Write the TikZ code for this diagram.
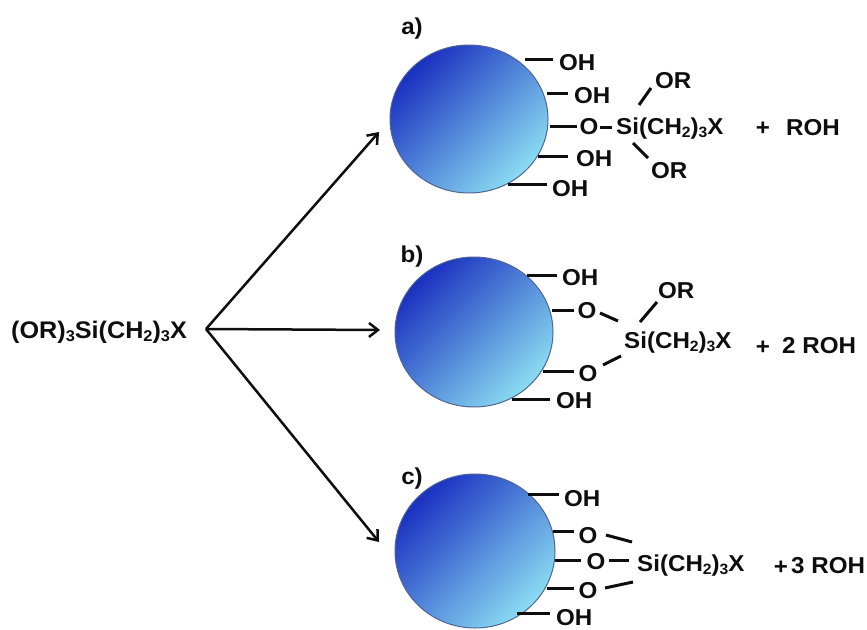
\documentclass[tikz,border=0pt]{standalone}
\usepackage{fontspec}
\usepackage{graphicx}
\setmainfont{Liberation Sans}[FakeStretch=1.05]
\usetikzlibrary{arrows.meta}
\definecolor{ink}{HTML}{0E0E0E}
\definecolor{beaddark}{RGB}{26,48,192}
\definecolor{beadmid}{RGB}{62,122,220}
\definecolor{beadlight}{RGB}{138,220,242}
\definecolor{beadrim}{RGB}{80,100,150}
% lowered, reduced subscript digit
\newcommand\sbs[1]{\raisebox{-0.3ex}{\scalebox{0.65}{#1}}}

\begin{document}
\begin{tikzpicture}[x=1pt,y=-1pt,
  lab/.style={inner sep=0pt, text height=16pt, text depth=0pt,
    font=\fontsize{23}{27}\selectfont\bfseries, text=ink},
  bond/.style={line width=3pt, draw=ink},
  arr/.style={line width=2.5pt, draw=ink,
    -{Straight Barb[length=9pt,width=14pt,line width=2.5pt]}},
  bead/.style={top color=beaddark, middle color=beadmid, bottom color=beadlight,
    shading angle=45, draw=beadrim, line width=1pt}]
\useasboundingbox (0,0) rectangle (867,629);

% silica particles
\shade[bead] (469,119) ellipse [x radius=79pt, y radius=74pt];
\shade[bead] (474,332) ellipse [x radius=79pt, y radius=75pt];
\shade[bead] (475,551) ellipse [x radius=80pt, y radius=77pt];

% starting silane and reaction arrows
\node[lab, font=\fontsize{24}{28}\selectfont\bfseries, anchor=west] (src) at (11,330)
  {(OR)\sbs{3}Si(CH\sbs{2})\sbs{3}X};
\coordinate (fork) at (206,329);
\draw[arr] (fork) -- (379,132);
\draw[arr] (fork) -- (380,330);
\draw[arr] (fork) -- (379,542);

% a) monodentate grafting
\node[lab] (la) at (412,26) {a)};
\node[lab,anchor=west] (a1) at (559,62) {OH};
\draw[bond] (525,59) -- (553,59);
\node[lab,anchor=west] (a2) at (574,95) {OH};
\draw[bond] (547,93) -- (568,93);
\node[lab] (ao) at (589,126) {O};
\draw[bond] (550,126) -- (577,126);
\draw[bond] (600,127) -- (612,127);
\node[lab,anchor=west] (asi) at (616,126) {Si(CH\sbs{2})\sbs{3}X};
\node[lab,anchor=west] (aor1) at (655,80) {OR};
\draw[bond] (639,105) -- (651,88);
\node[lab,anchor=west] (aor2) at (651,170) {OR};
\draw[bond] (633,143) -- (648,158);
\node[lab,anchor=west] (a3) at (576,158) {OH};
\draw[bond] (538,156) -- (568,156);
\node[lab,anchor=west] (a4) at (552,188) {OH};
\draw[bond] (508,184) -- (547,184);
\node[lab] (aplus) at (763,127) {+};
\node[lab,anchor=west] (aroh) at (786,127) {ROH};

% b) bidentate grafting
\node[lab] (lb) at (412,254) {b)};
\node[lab,anchor=west] (b1) at (562,277) {OH};
\draw[bond] (527,275) -- (557,275);
\node[lab] (bo1) at (587,310) {O};
\draw[bond] (552,310) -- (574,310);
\draw[bond] (600,313) -- (618,321);
\node[lab] (bo2) at (588,373) {O};
\draw[bond] (543,371) -- (574,371);
\draw[bond] (603,365) -- (621,356);
\node[lab,anchor=west] (bsi) at (624,340) {Si(CH\sbs{2})\sbs{3}X};
\draw[bond] (640,322) -- (657,302);
\node[lab,anchor=west] (bor) at (658,290) {OR};
\node[lab,anchor=west] (b2) at (556,400) {OH};
\draw[bond] (512,399) -- (550,399);
\node[lab] (bplus) at (763,346) {+};
\node[lab,anchor=west] (broh) at (782,345) {2 ROH};

% c) tridentate grafting
\node[lab] (lc) at (412,476) {c)};
\node[lab,anchor=west] (c1) at (564,498) {OH};
\draw[bond] (528,494) -- (559,494);
\node[lab] (co1) at (588,535) {O};
\draw[bond] (553,531) -- (574,531);
\draw[bond] (606,535) -- (632,542);
\node[lab] (co2) at (596,561) {O};
\draw[bond] (555,560) -- (581,560);
\draw[bond] (609,560) -- (629,560);
\node[lab,anchor=west] (csi) at (637,563) {Si(CH\sbs{2})\sbs{3}X};
\node[lab] (co3) at (588,590) {O};
\draw[bond] (547,588) -- (574,588);
\draw[bond] (605,588) -- (633,582);
\node[lab,anchor=west] (c2) at (556,617) {OH};
\draw[bond] (517,613) -- (550,613);
\node[lab] (cplus) at (781,566) {+};
\node[lab,anchor=west] (croh) at (791,565) {3 ROH};
\end{tikzpicture}
\end{document}
